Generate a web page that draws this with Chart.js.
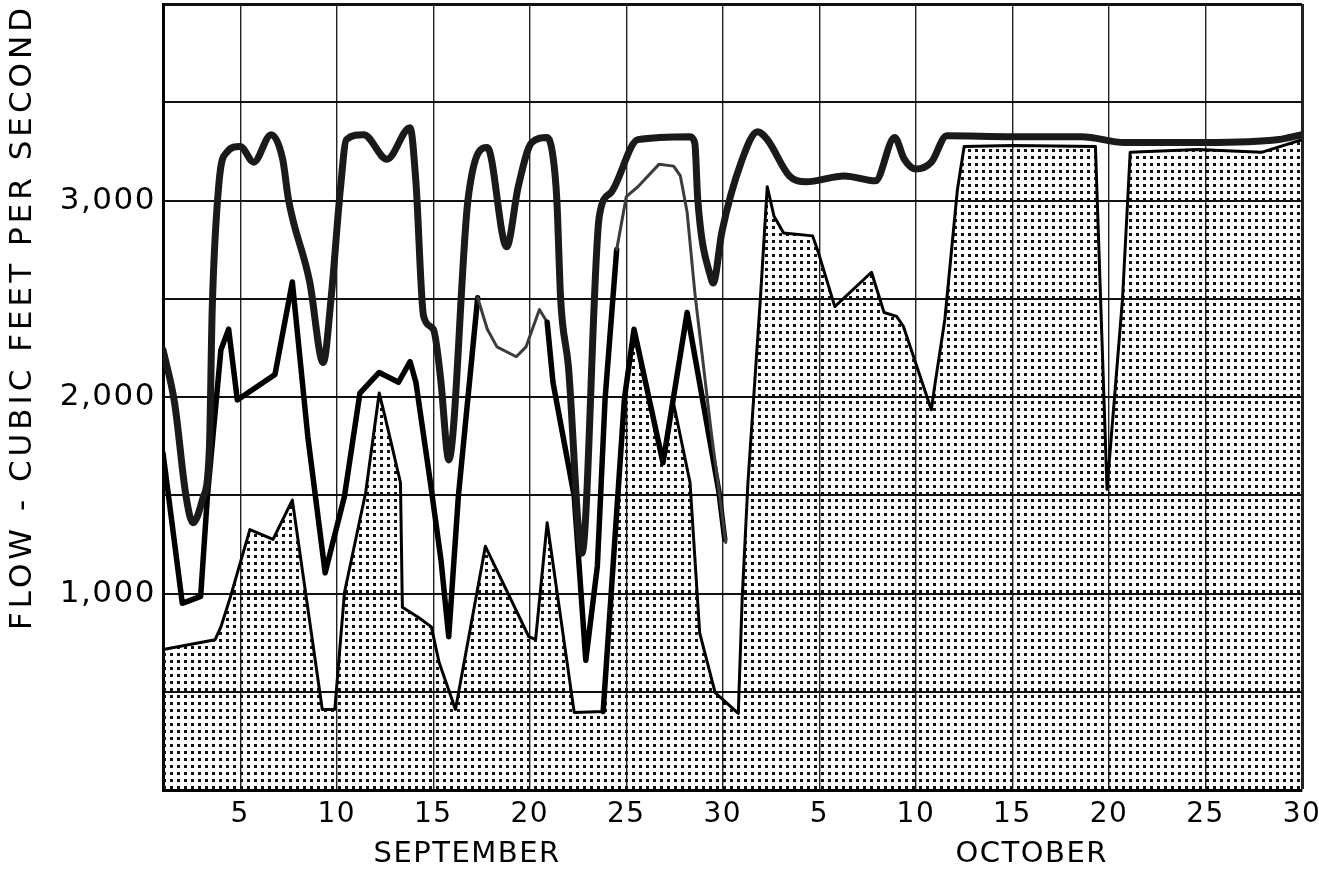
<!DOCTYPE html>
<html>
<head>
<meta charset="utf-8">
<title>Flow - September / October</title>
<script src="https://cdn.jsdelivr.net/npm/chart.js@4.4.1/dist/chart.umd.min.js"></script>
<style>
  body { margin: 0; background: #fff; }
  #wrap { width: 1319px; height: 876px; }
</style>
</head>
<body>
<div id="wrap"><canvas id="flow"></canvas></div>
<script>
// day numbers: Sep 1 = 1 ... Sep 30 = 30, Oct 1 = 31 ... Oct 30 = 60
tickDays = [5, 10, 15, 20, 25, 30, 35, 40, 45, 50, 55, 60];
tickLabels = ["5", "10", "15", "20", "25", "30", "5", "10", "15", "20", "25", "30"];
monthNames = ["SEPTEMBER", "OCTOBER"];
monthCenters = [16.75, 46];
yLabelled = [1000, 2000, 3000];

// top heavy curve
topDays = [1, 1.6, 2.2, 2.55, 3.05, 3.4, 3.55, 3.9, 4.3, 5, 5.7, 6.6, 7.2, 7.5, 8.6, 9.3, 9.7, 10.2, 10.5, 11.4,
    12.6, 13.8, 14.1, 14.5, 15, 15.4, 15.7, 15.8, 16.8, 17.8, 18.8, 19.4, 20.1, 20.9, 21.2, 21.4, 21.6, 22, 22.7,
    23.6, 24.2, 25.6, 28.3, 28.55, 28.7, 29.4, 29.5, 29.95, 30.95, 31.8, 32.3, 33.45, 34.3, 36.3, 37.9, 38.9,
    39.4, 40, 40.8, 41.6, 45, 48.6, 50.8, 55, 58.8, 60];
topFlow = [2240, 1970, 1490, 1360, 1480, 1730, 2450, 3090, 3245, 3275, 3195, 3335, 3210, 3005, 2585, 2175, 2495, 3070, 3310, 3335,
    3210, 3370, 3095, 2410, 2345, 2075, 1730, 1680, 3005, 3270, 2765, 3070, 3295, 3320, 3225, 3005, 2495, 2155, 1205,
    2920, 3040, 3310, 3325, 3290, 3005, 2600, 2580, 2840, 3195, 3350, 3310, 3125, 3095, 3125, 3100, 3320,
    3210, 3160, 3195, 3330, 3325, 3325, 3295, 3295, 3310, 3335];

// middle curve (September only)
midDays = [1, 2, 2.95, 3.3, 4, 4.4, 4.85, 6.8, 7.7, 8.5, 9.4, 10.4, 11.2, 12.2, 13.2, 13.8, 14.1, 14.85, 15.4, 15.8,
    16.3, 17.3, 17.8, 18.3, 19.3, 19.8, 20.5, 20.9, 21.2, 22.3, 22.9, 23.5, 23.9, 24.5, 25, 25.6, 26.7, 27.45,
    27.8, 28.15, 28.55, 29.4, 30.15];
midFlow = [1715, 950, 985, 1495, 2240, 2345, 1985, 2115, 2585, 1800, 1105, 1495, 2020, 2125, 2075, 2180, 2075, 1565, 1170, 780,
    1495, 2505, 2345, 2255, 2205, 2255, 2445, 2380, 2075, 1495, 660, 1140, 1990, 2750, 3020, 3070, 3185, 3175,
    3125, 2940, 2530, 1820, 1260];

// short heavy curve at the end of September
lateDays = [23.8, 24.9, 25.4, 26.9, 28.15, 29.8, 30.1];
lateFlow = [400, 1990, 2345, 1665, 2430, 1515, 1275];

// stippled area
lowDays = [1, 3.7, 4, 4.5, 5.5, 6.7, 7.7, 9.25, 9.9, 10.4, 11.5, 12.2, 12.5, 13.3, 13.4, 14.2, 14.9, 15.3, 16.15,
    17.7, 19.95, 20.3, 20.9, 22.3, 23.8, 24.9, 25.4, 26.9, 27.4, 28.3, 28.8, 29.6, 30.8, 31, 31.3, 31.95, 32.3,
    32.65, 33.15, 34.65, 34.95, 35.8, 37.7, 38.35, 39, 39.35, 40.8, 40.95, 41.5, 42.15, 42.5, 45, 49.3, 49.9,
    50.7, 51.1, 54.6, 57.9, 60];
lowFlow = [715, 765, 830, 985, 1325, 1275, 1475, 410, 410, 1005, 1515, 2020, 1900, 1565, 930, 880, 830, 650, 410,
    1240, 780, 765, 1360, 395, 400, 1990, 2345, 1665, 1990, 1565, 800, 495, 390, 970, 1565, 2510, 3070,
    2920, 2835, 2820, 2735, 2460, 2635, 2430, 2410, 2360, 1935, 2040, 2395, 3055, 3275, 3280, 3275, 1530,
    2495, 3245, 3260, 3245, 3310];

go = {};
document.addEventListener("DOMContentLoaded", main);

function points(days, flow) {
    return days.map((d, i) => ({ x: d, y: flow[i] }));
}

function makeDots() {
    let c = document.createElement("canvas");
    c.width = 7;
    c.height = 7;
    let g = c.getContext("2d");
    g.fillStyle = "#111";
    g.fillRect(2, 2, 3, 3);
    return g.createPattern(c, "repeat");
}

// middle line is drawn lighter in a couple of stretches
function thinPart(c) {
    let a = c.p0.parsed.x, b = c.p1.parsed.x;
    return (a >= 17.3 && b <= 20.9) || a >= 24;
}

// canvas letter spacing: title goes with the grid layer, labels after datasets
const spacing = {
    id: "spacing",
    beforeDraw(chart) { chart.ctx.letterSpacing = "4px"; },
    afterDatasetsDraw(chart) { chart.ctx.letterSpacing = "1.5px"; }
};

function main() {
    let ctx = document.getElementById("flow").getContext("2d");
    let font = "DejaVu Sans";

    go.chart = new Chart(ctx, {
        type: "line",
        data: {
            datasets: [{
                data: points(topDays, topFlow),
                borderColor: "#1a1a1a",
                borderWidth: 7,
                cubicInterpolationMode: "monotone",
                borderJoinStyle: "round",
                borderCapStyle: "round",
                pointRadius: 0,
                fill: false
            }, {
                data: points(midDays, midFlow),
                borderColor: "#000",
                borderWidth: 5.5,
                tension: 0,
                borderJoinStyle: "round",
                borderCapStyle: "round",
                pointRadius: 0,
                fill: false,
                segment: {
                    borderWidth: c => thinPart(c) ? 3 : 5.5,
                    borderColor: c => thinPart(c) ? "#3c3c3c" : "#000"
                }
            }, {
                data: points(lateDays, lateFlow),
                borderColor: "#000",
                borderWidth: 5.5,
                tension: 0,
                borderJoinStyle: "round",
                borderCapStyle: "round",
                pointRadius: 0,
                fill: false
            }, {
                data: points(lowDays, lowFlow),
                borderColor: "#000",
                borderWidth: 3,
                tension: 0,
                borderJoinStyle: "round",
                pointRadius: 0,
                fill: "origin",
                backgroundColor: makeDots()
            }]
        },
        plugins: [spacing],
        options: {
            animation: false,
            responsive: true,
            maintainAspectRatio: false,
            devicePixelRatio: 1,
            layout: { padding: { left: 0, top: 4, right: 17, bottom: 0 } },
            plugins: {
                legend: { display: false },
                tooltip: { enabled: false }
            },
            scales: {
                x: {
                    type: "linear",
                    min: 1,
                    max: 60,
                    weight: 1,
                    afterBuildTicks: s => { s.ticks = tickDays.map(v => ({ value: v })); },
                    afterFit: s => { s.height = 46; s.paddingLeft = 0; s.paddingRight = 0; },
                    grid: {
                        drawTicks: false,
                        color: "#222",
                        lineWidth: c => c.tick && c.tick.value === 60 ? 3 : 1.4
                    },
                    border: { color: "#000", width: 3 },
                    ticks: {
                        z: 1,
                        color: "#000",
                        padding: 8,
                        maxRotation: 0,
                        autoSkip: false,
                        font: { family: font, size: 28 },
                        callback: (v, i) => tickLabels[i]
                    }
                },
                x2: {
                    type: "linear",
                    position: "bottom",
                    min: 1,
                    max: 60,
                    weight: 2,
                    afterBuildTicks: s => { s.ticks = monthCenters.map(v => ({ value: v })); },
                    afterFit: s => { s.height = 40; s.paddingLeft = 0; s.paddingRight = 0; },
                    grid: { display: false, drawTicks: false },
                    border: { display: false },
                    ticks: {
                        z: 1,
                        color: "#000",
                        padding: 1,
                        maxRotation: 0,
                        autoSkip: false,
                        font: { family: font, size: 29 },
                        callback: (v, i) => monthNames[i]
                    }
                },
                y: {
                    min: 0,
                    max: 4000,
                    afterFit: s => { s.width = 163; s.paddingTop = 0; s.paddingBottom = 0; },
                    grid: {
                        drawTicks: false,
                        color: "#111",
                        lineWidth: c => c.tick && c.tick.value === 4000 ? 3 : 2
                    },
                    border: { color: "#000", width: 3 },
                    ticks: {
                        z: 1,
                        stepSize: 500,
                        color: "#000",
                        padding: 7,
                        font: { family: font, size: 31 },
                        callback: v => yLabelled.includes(v) ? v.toLocaleString("en-US") : ""
                    },
                    title: {
                        display: true,
                        text: "FLOW - CUBIC FEET PER SECOND",
                        align: "end",
                        color: "#000",
                        padding: { top: 4, bottom: 0 },
                        font: { family: font, size: 31 }
                    }
                }
            }
        }
    });
}
</script>
</body>
</html>
